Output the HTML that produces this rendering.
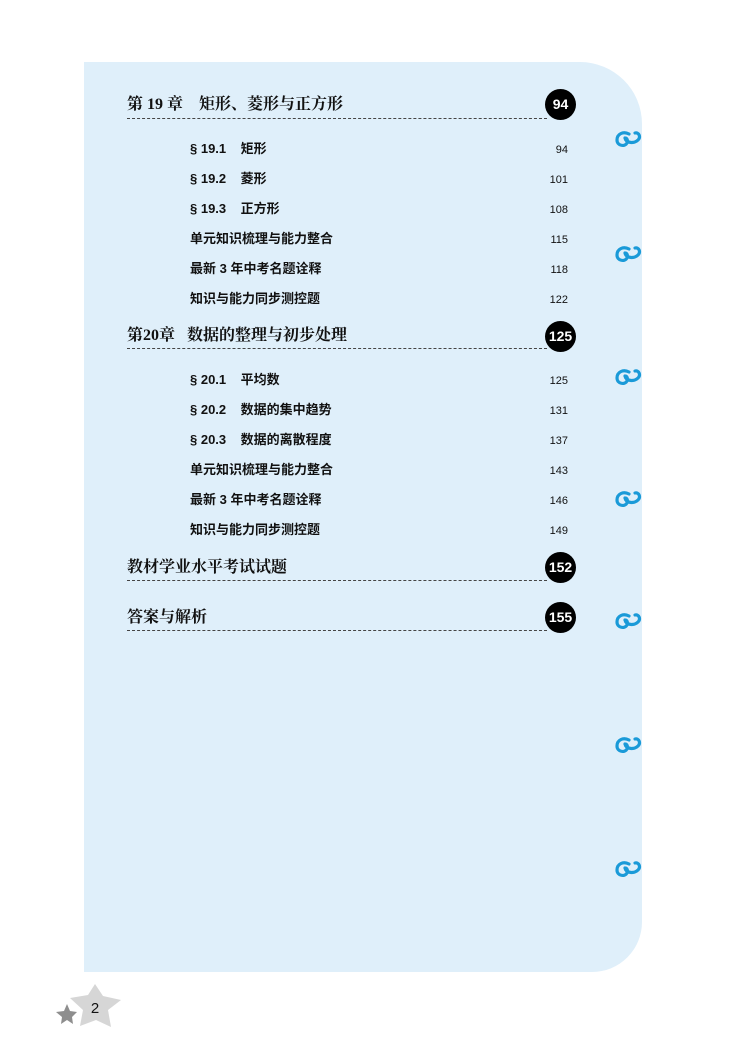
<!DOCTYPE html>
<html><head><meta charset="utf-8"><style>
body{margin:0;width:750px;height:1058px;background:#fff;position:relative;overflow:hidden;font-family:"Liberation Sans","Noto Sans CJK SC",sans-serif}
.panel{position:absolute;left:84px;top:62px;width:558px;height:910px;background:#dfeffa;border-radius:0 62px 50px 0}
.ch{position:absolute;left:127px;font-family:"Liberation Serif","Noto Serif CJK SC",serif;font-weight:bold;font-size:16px;color:#111;line-height:20px}
.dl{position:absolute;left:127px;width:420px;border-top:1px dashed #444}
.badge{position:absolute;width:31px;height:31px;border-radius:50%;background:#000;color:#fff;font-weight:bold;font-size:14px;line-height:31px;text-align:center;left:545px}
.s{position:absolute;left:190px;font-size:13px;font-weight:bold;color:#111;line-height:16px}
.n{position:absolute;right:182px;font-size:11px;color:#111;line-height:16px}
.ring{position:absolute;left:614px}
</style></head><body>
<div class="panel"></div>

<div class="ch" style="top:95px">第 19 章&nbsp;&nbsp;&nbsp; 矩形、菱形与正方形</div>
<div class="dl" style="top:118px"></div>
<div class="badge" style="top:89px">94</div>
<div class="s" style="top:141px">§ 19.1&nbsp;&nbsp;&nbsp; 矩形</div><div class="n" style="top:142px">94</div>
<div class="s" style="top:171px">§ 19.2&nbsp;&nbsp;&nbsp; 菱形</div><div class="n" style="top:172px">101</div>
<div class="s" style="top:201px">§ 19.3&nbsp;&nbsp;&nbsp; 正方形</div><div class="n" style="top:202px">108</div>
<div class="s" style="top:231px">单元知识梳理与能力整合</div><div class="n" style="top:232px">115</div>
<div class="s" style="top:261px">最新 3 年中考名题诠释</div><div class="n" style="top:262px">118</div>
<div class="s" style="top:291px">知识与能力同步测控题</div><div class="n" style="top:292px">122</div>

<div class="ch" style="top:326px">第20章&nbsp;&nbsp; 数据的整理与初步处理</div>
<div class="dl" style="top:348px"></div>
<div class="badge" style="top:321px">125</div>
<div class="s" style="top:372px">§ 20.1&nbsp;&nbsp;&nbsp; 平均数</div><div class="n" style="top:373px">125</div>
<div class="s" style="top:402px">§ 20.2&nbsp;&nbsp;&nbsp; 数据的集中趋势</div><div class="n" style="top:403px">131</div>
<div class="s" style="top:432px">§ 20.3&nbsp;&nbsp;&nbsp; 数据的离散程度</div><div class="n" style="top:433px">137</div>
<div class="s" style="top:462px">单元知识梳理与能力整合</div><div class="n" style="top:463px">143</div>
<div class="s" style="top:492px">最新 3 年中考名题诠释</div><div class="n" style="top:493px">146</div>
<div class="s" style="top:522px">知识与能力同步测控题</div><div class="n" style="top:523px">149</div>

<div class="ch" style="top:558px">教材学业水平考试试题</div>
<div class="dl" style="top:580px"></div>
<div class="badge" style="top:552px">152</div>
<div class="ch" style="top:608px">答案与解析</div>
<div class="dl" style="top:630px"></div>
<div class="badge" style="top:602px">155</div>

<svg width="0" height="0" style="position:absolute"><defs><g id="r"><path d="M15 6 C9 3 3 6 3 12 C3 18 11 19 13 15 C14 12 13 10 11 10 M11 10 C12 15 20 16 24 12 C27 9 25 4 21 5" fill="none" stroke="#1a9ad8" stroke-width="3.2" stroke-linecap="round"/></g></defs></svg>
<svg class="ring" style="top:128px" width="30" height="22"><use href="#r"/></svg>
<svg class="ring" style="top:243px" width="30" height="22"><use href="#r"/></svg>
<svg class="ring" style="top:366px" width="30" height="22"><use href="#r"/></svg>
<svg class="ring" style="top:488px" width="30" height="22"><use href="#r"/></svg>
<svg class="ring" style="top:610px" width="30" height="22"><use href="#r"/></svg>
<svg class="ring" style="top:734px" width="30" height="22"><use href="#r"/></svg>
<svg class="ring" style="top:858px" width="30" height="22"><use href="#r"/></svg>

<svg style="position:absolute;left:50px;top:980px" width="80" height="50">
<polygon points="45,4 53,16 71,20 58,30 61,47 46,40 30,46 33,30 20,18 38,15" fill="#d6d6d6"/>
<polygon points="17,24 20,31 27,32 22,37 23,44 17,40 11,44 12,37 6,32 14,31" fill="#8e8e8e"/>
<text x="45" y="33" font-family="Liberation Sans" font-size="15" text-anchor="middle" fill="#111">2</text>
</svg>
</body></html>
